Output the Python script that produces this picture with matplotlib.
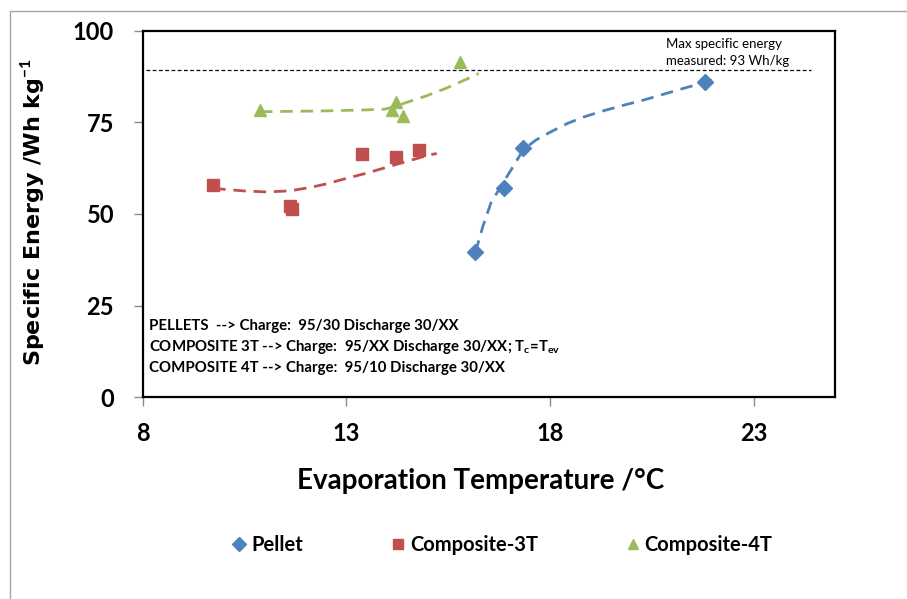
import matplotlib
matplotlib.use("Agg")
import matplotlib.pyplot as plt
from matplotlib.lines import Line2D
from matplotlib.patches import Rectangle

plt.rcParams['font.family'] = ['Lato', 'DejaVu Sans']
plt.rcParams['mathtext.fontset'] = 'custom'
plt.rcParams['mathtext.rm'] = 'Lato'
plt.rcParams['mathtext.bf'] = 'Lato:bold'
plt.rcParams['mathtext.default'] = 'bf'

# ---- measured data ----
pellet_x = [16.17, 16.88, 17.35, 21.81]
pellet_y = [39.5, 57.2, 67.9, 85.9]

comp3_x = [9.73, 11.61, 11.67, 13.39, 14.23, 14.78]
comp3_y = [57.9, 52.2, 51.3, 66.4, 65.6, 67.4]

comp4_x = [10.88, 14.12, 14.22, 14.39, 15.80]
comp4_y = [78.4, 78.4, 80.5, 76.8, 91.5]

# ---- model / trend curves ----
pellet_fit_x = [16.17, 16.35, 16.55, 16.82, 17.10, 17.35, 17.66, 18.02, 18.43,
                18.84, 19.33, 19.82, 20.31, 20.80, 21.29, 21.81, 22.15]
pellet_fit_y = [39.5, 46.5, 53.0, 58.0, 63.0, 67.6, 70.2, 72.4, 74.7,
                76.5, 78.2, 79.7, 81.1, 82.7, 84.3, 85.9, 87.0]

comp3_fit_x = [9.73, 10.02, 10.47, 11.04, 11.61, 12.10, 12.51, 13.00, 13.49,
               13.98, 14.47, 15.04, 15.22]
comp3_fit_y = [57.0, 56.7, 56.3, 56.0, 56.3, 57.2, 58.2, 59.7, 61.1,
               62.7, 64.3, 66.1, 66.5]

comp4_fit_x = [10.88, 12.40, 13.50, 13.94, 14.20, 14.47, 14.96, 15.45, 15.94, 16.25]
comp4_fit_y = [77.9, 78.1, 78.4, 78.6, 79.3, 80.4, 82.2, 84.3, 86.7, 88.3]

max_energy_line = 89.3
max_line_x = [8.07, 24.4]
series_names = ["Pellet", "Composite-3T", "Composite-4T"]
xticks = [8, 13, 18, 23]
yticks = [0, 25, 50, 75, 100]

notes = [
    "PELLETS  --> Charge:  95/30 Discharge 30/XX",
    r"COMPOSITE 3T --> Charge:  95/XX Discharge 30/XX; T$_{c}$=T$_{ev}$",
    "COMPOSITE 4T --> Charge:  95/10 Discharge 30/XX",
]

BLUE, RED, GREEN = "#4F81BD", "#C0504D", "#9BBB59"

fig = plt.figure(figsize=(9.07, 5.99), dpi=100)
W, H = 907, 599
ax = fig.add_axes([142.7 / W, 1 - 397.2 / H, (835 - 142.7) / W, (397.2 - 30.7) / H])

# outer gray frame
fig.patches.append(Rectangle((9.5 / W, -0.1), 1.2, 1 - 10.7 / H + 0.1,
                             transform=fig.transFigure, fill=False,
                             edgecolor="#A6A6A6", linewidth=1.0))

dash = dict(linestyle=(0, (4.5, 2.8)), linewidth=2.0, solid_joinstyle='round',
            dash_joinstyle='round', zorder=2)
ax.plot(pellet_fit_x, pellet_fit_y, color=BLUE, **dash)
ax.plot(comp3_fit_x, comp3_fit_y, color=RED, **dash)
ax.plot(comp4_fit_x, comp4_fit_y, color=GREEN, **dash)

ax.plot(pellet_x, pellet_y, 'D', color=BLUE, ms=8, zorder=3)
ax.plot(comp3_x, comp3_y, 's', color=RED, ms=8, zorder=3)
ax.plot(comp4_x, comp4_y, '^', color=GREEN, ms=8, zorder=3)

ax.plot(max_line_x, [max_energy_line, max_energy_line], color='black',
        linestyle=(0, (3, 2)), linewidth=0.9, zorder=2)

fig.text(666 / W, 1 - 44 / H, "Max specific energy", fontsize=9.5,
         ha='left', va='center')
fig.text(666 / W, 1 - 61 / H, "measured: 93 Wh/kg", fontsize=9.5,
         ha='left', va='center')

for i, line in enumerate(notes):
    fig.text(149 / W, 1 - (326 + 21 * i) / H, line, fontsize=10.8,
             fontweight='bold', ha='left', va='center')

ax.set_xlim(8, 25)
ax.set_ylim(0, 100)
ax.set_xticks(xticks)
ax.set_yticks(yticks)
ax.tick_params(axis='both', direction='out', length=6.5, width=1,
               color='#8C8C8C', labelsize=17)
ax.tick_params(axis='x', pad=11)
ax.tick_params(axis='y', pad=14)
for lab in ax.get_xticklabels() + ax.get_yticklabels():
    lab.set_fontweight('bold')
for s in ax.spines.values():
    s.set_linewidth(1.6)
    s.set_color('black')

fig.text(481 / W, 1 - 481 / H, "Evaporation Temperature /°C", fontsize=20,
         fontweight='bold', ha='center', va='center')
fig.text(33 / W, 1 - 212 / H, r"Specific Energy /Wh kg$^{-1}$", fontsize=16,
         fontweight='bold', family='DejaVu Sans', rotation=90,
         ha='center', va='center')

handles = [
    Line2D([], [], marker='D', color=BLUE, linestyle='none', ms=7),
    Line2D([], [], marker='s', color=RED, linestyle='none', ms=7),
    Line2D([], [], marker='^', color=GREEN, linestyle='none', ms=7),
]
fig.legend(handles, series_names, loc='center',
           bbox_to_anchor=(503 / W, 1 - 545 / H), ncol=3, frameon=False,
           prop={'family': 'Lato', 'weight': 'bold', 'size': 14.5},
           handlelength=0.6, handletextpad=0.3, columnspacing=4.4)

fig.savefig("out.png", dpi=100)
